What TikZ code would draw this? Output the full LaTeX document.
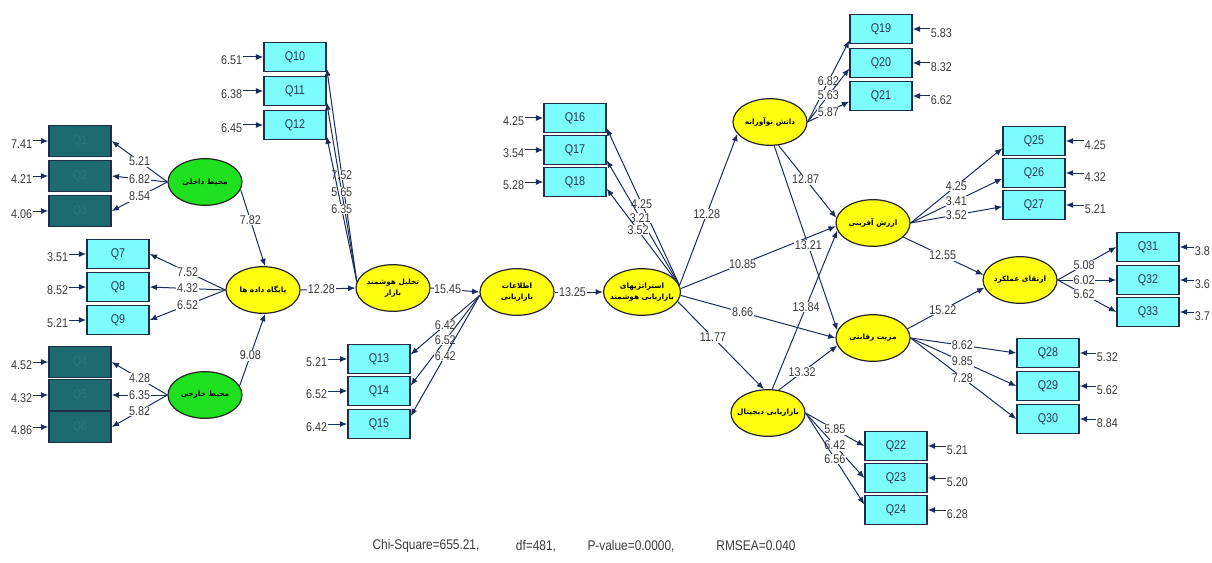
\documentclass[tikz,border=0pt]{standalone}
\usepackage{fontspec}
\usetikzlibrary{shapes.geometric,arrows.meta}
\TeXXeTstate=1
\newfontfamily\nf[FakeStretch=0.85]{Liberation Sans}
\newfontfamily\fa[Script=Arabic]{DejaVu Sans}
\newcommand{\fatx}[1]{\beginR#1\endR}
\definecolor{lc}{HTML}{1C2D5A}
\definecolor{qcyan}{HTML}{7CFCFC}
\definecolor{boxb}{HTML}{1E2E48}
\definecolor{dteal}{HTML}{1E6A72}
\definecolor{dtext}{HTML}{287780}
\definecolor{qtext}{HTML}{2A3A5A}
\definecolor{yel}{HTML}{FFFF10}
\definecolor{grn}{HTML}{1EE01E}
\definecolor{numc}{HTML}{3A3A3A}
\tikzset{
  qbox/.style={draw=boxb, line width=1.1pt, fill=qcyan, minimum width=46.5pt, minimum height=21.75pt, inner sep=0pt, font=\nf\fontsize{9.5}{10}\selectfont, text=qtext},
  dbox/.style={qbox, fill=dteal, text=dtext, minimum height=23pt},
  lat/.style={ellipse, draw=black!85, line width=0.9pt, fill=yel, minimum width=55.5pt, minimum height=35pt, inner sep=-3.5pt, align=center, font=\fa\bfseries\fontsize{5.5}{8.5}\selectfont},
  glat/.style={lat, fill=grn},
  num/.style={font=\nf\fontsize{9.5}{10}\selectfont, text=numc, inner sep=0.5pt},
  lab/.style={num, fill=white},
  arr/.style={draw=lc, line width=0.75pt, -{Latex[length=5.5pt,width=4.5pt]}}
}
\begin{document}
\begin{tikzpicture}[x=0.75pt,y=-0.75pt]
\useasboundingbox (0,0) rectangle (1212,563);
% ---------- observed boxes ----------
\node[dbox] (D1) at (80,141) {Q1};
\node[dbox] (D2) at (80,176) {Q2};
\node[dbox] (D3) at (80,211) {Q3};
\node[dbox] (D4) at (80,362) {Q4};
\node[dbox] (D5) at (80,395) {Q5};
\node[dbox] (D6) at (80,427) {Q6};
\node[qbox] (Q7) at (118,254) {Q7};
\node[qbox] (Q8) at (118,287) {Q8};
\node[qbox] (Q9) at (118,320) {Q9};
\node[qbox] (Q10) at (295,57) {Q10};
\node[qbox] (Q11) at (295,91) {Q11};
\node[qbox] (Q12) at (295,125) {Q12};
\node[qbox] (Q13) at (379,359) {Q13};
\node[qbox] (Q14) at (379,391) {Q14};
\node[qbox] (Q15) at (379,424) {Q15};
\node[qbox] (Q16) at (575,118) {Q16};
\node[qbox] (Q17) at (575,150) {Q17};
\node[qbox] (Q18) at (575,182) {Q18};
\node[qbox] (Q19) at (881,29) {Q19};
\node[qbox] (Q20) at (881,63) {Q20};
\node[qbox] (Q21) at (881,96) {Q21};
\node[qbox] (Q25) at (1034,141) {Q25};
\node[qbox] (Q26) at (1034,173) {Q26};
\node[qbox] (Q27) at (1034,205) {Q27};
\node[qbox] (Q31) at (1148,247) {Q31};
\node[qbox] (Q32) at (1148,280) {Q32};
\node[qbox] (Q33) at (1148,312) {Q33};
\node[qbox] (Q28) at (1048,353) {Q28};
\node[qbox] (Q29) at (1048,386) {Q29};
\node[qbox] (Q30) at (1048,419) {Q30};
\node[qbox] (Q22) at (896,446) {Q22};
\node[qbox] (Q23) at (896,478) {Q23};
\node[qbox] (Q24) at (896,510) {Q24};
% ---------- latent ellipses ----------
\node[glat] (gi) at (205,182) {\fatx{محیط داخلی}};
\node[glat] (ge) at (205,395) {\fatx{محیط خارجی}};
\node[lat] (pd) at (263,290) {\fatx{پایگاه داده ها}};
\node[lat] (ta) at (393,288) {\fatx{تحلیل هوشمند}\\\fatx{بازار}};
\node[lat] (et) at (517,292) {\fatx{اطلاعات}\\\fatx{بازاریابی}};
\node[lat] (st) at (642,292) {\fatx{استراتژیهای}\\\fatx{بازاریابی هوشمند}};
\node[lat] (dn) at (770,122) {\fatx{دانش نوآورانه}};
\node[lat] (ar) at (873,223) {\fatx{ارزش آفرینی}};
\node[lat] (ir) at (1020,280) {\fatx{ارتقای عملکرد}};
\node[lat] (mz) at (873,338) {\fatx{مزیت رقابتی}};
\node[lat] (bd) at (768,413) {\fatx{بازاریابی دیجیتال}};
% ---------- error terms (left) ----------
\node[num,anchor=east] (e1) at (33,144) {7.41};
\node[num,anchor=east] (e2) at (33,179) {4.21};
\node[num,anchor=east] (e3) at (33,214) {4.06};
\node[num,anchor=east] (e4) at (33,365) {4.52};
\node[num,anchor=east] (e5) at (33,398) {4.32};
\node[num,anchor=east] (e6) at (33,430) {4.86};
\node[num,anchor=east] (e7) at (69,257) {3.51};
\node[num,anchor=east] (e8) at (69,290) {8.52};
\node[num,anchor=east] (e9) at (69,323) {5.21};
\node[num,anchor=east] (e10) at (243,60) {6.51};
\node[num,anchor=east] (e11) at (243,94) {6.38};
\node[num,anchor=east] (e12) at (243,128) {6.45};
\node[num,anchor=east] (e13) at (328,362) {5.21};
\node[num,anchor=east] (e14) at (328,394) {6.52};
\node[num,anchor=east] (e15) at (328,427) {6.42};
\node[num,anchor=east] (e16) at (525,121) {4.25};
\node[num,anchor=east] (e17) at (525,153) {3.54};
\node[num,anchor=east] (e18) at (525,185) {5.28};
\foreach \e/\q in {e1/D1,e2/D2,e3/D3,e4/D4,e5/D5,e6/D6,e7/Q7,e8/Q8,e9/Q9,e10/Q10,e11/Q11,e12/Q12,e13/Q13,e14/Q14,e15/Q15,e16/Q16,e17/Q17,e18/Q18}
  \draw[arr] (\e.east |- \q.west) -- (\q.west);
% ---------- error terms (right) ----------
\node[num,anchor=west] (e19) at (930,33) {5.83};
\node[num,anchor=west] (e20) at (930,67) {8.32};
\node[num,anchor=west] (e21) at (930,100) {6.62};
\node[num,anchor=west] (e25) at (1084,145) {4.25};
\node[num,anchor=west] (e26) at (1084,177) {4.32};
\node[num,anchor=west] (e27) at (1084,209) {5.21};
\node[num,anchor=west] (e31) at (1194,251) {3.8};
\node[num,anchor=west] (e32) at (1194,284) {3.6};
\node[num,anchor=west] (e33) at (1194,316) {3.7};
\node[num,anchor=west] (e28) at (1096,357) {5.32};
\node[num,anchor=west] (e29) at (1096,390) {5.62};
\node[num,anchor=west] (e30) at (1096,423) {8.84};
\node[num,anchor=west] (e22) at (946,450) {5.21};
\node[num,anchor=west] (e23) at (946,482) {5.20};
\node[num,anchor=west] (e24) at (946,514) {6.28};
\foreach \e/\q in {e19/Q19,e20/Q20,e21/Q21,e25/Q25,e26/Q26,e27/Q27,e31/Q31,e32/Q32,e33/Q33,e28/Q28,e29/Q29,e30/Q30,e22/Q22,e23/Q23,e24/Q24}
  \draw[arr] (\e.west |- \q.east) -- (\q.east);
% ---------- loadings ----------
\draw[arr] (gi.west) -- node[lab]{5.21} (D1.east);
\draw[arr] (gi.west) -- node[lab]{6.82} (D2.east);
\draw[arr] (gi.west) -- node[lab]{8.54} (D3.east);
\draw[arr] (ge.west) -- node[lab]{4.28} (D4.east);
\draw[arr] (ge.west) -- node[lab]{6.35} (D5.east);
\draw[arr] (ge.west) -- node[lab]{5.82} (D6.east);
\draw[arr] (pd.west) -- node[lab]{7.52} (Q7.east);
\draw[arr] (pd.west) -- node[lab]{4.32} (Q8.east);
\draw[arr] (pd.west) -- node[lab]{6.52} (Q9.east);
\draw[arr] (ta.170) -- node[lab]{7.52} (Q10.-20);
\draw[arr] (ta.170) -- node[lab]{5.65} (Q11.-20);
\draw[arr] (ta.170) -- node[lab]{6.35} (Q12.-20);
\draw[arr] (et.185) -- node[lab]{6.42} (Q13.8);
\draw[arr] (et.185) -- node[lab]{6.52} (Q14.10);
\draw[arr] (et.185) -- node[lab]{6.42} (Q15.14);
\draw[arr] (st.10) -- node[lab,pos=0.52]{4.25} (Q16.-18);
\draw[arr] (st.10) -- node[lab,pos=0.54]{3.21} (Q17.-18);
\draw[arr] (st.10) -- node[lab,pos=0.57]{3.52} (Q18.-12);
\draw[arr] (dn.east) -- node[lab]{6.82} (Q19.200);
\draw[arr] (dn.east) -- node[lab]{5.63} (Q20.190);
\draw[arr] (dn.east) -- node[lab]{5.87} (Q21.190);
\draw[arr] (ar.east) -- node[lab]{4.25} (Q25.193);
\draw[arr] (ar.east) -- node[lab]{3.41} (Q26.190);
\draw[arr] (ar.east) -- node[lab]{3.52} (Q27.183);
\draw[arr] (ir.east) -- node[lab,pos=0.45]{5.08} (Q31.west);
\draw[arr] (ir.east) -- node[lab,pos=0.45]{6.02} (Q32.west);
\draw[arr] (ir.east) -- node[lab,pos=0.45]{5.62} (Q33.west);
\draw[arr] (mz.east) -- node[lab,pos=0.49]{8.62} (Q28.west);
\draw[arr] (mz.east) -- node[lab,pos=0.49]{9.85} (Q29.west);
\draw[arr] (mz.east) -- node[lab,pos=0.49]{7.28} (Q30.west);
\draw[arr] (bd.east) -- node[lab]{5.85} (Q22.west);
\draw[arr] (bd.east) -- node[lab]{6.42} (Q23.west);
\draw[arr] (bd.east) -- node[lab]{6.56} (Q24.170);
% ---------- structural paths ----------
\draw[arr] (gi.-12) -- node[lab,pos=0.4]{7.82} (pd.85);
\draw[arr] (ge.15) -- node[lab,pos=0.42]{9.08} (pd.-85);
\draw[arr] (pd.east) -- node[lab,pos=0.38]{12.28} (ta.west);
\draw[arr] (ta.east) -- node[lab,pos=0.35]{15.45} (et.west);
\draw[arr] (et.east) -- node[lab,pos=0.37]{13.25} (st.west);
\draw[arr] (st.10) -- node[lab,pos=0.47]{12.28} (dn.200);
\draw[arr] (st.5) -- node[lab,pos=0.4]{10.85} (ar.185);
\draw[arr] (st.-5) -- node[lab,pos=0.4]{8.66} (mz.west);
\draw[arr] (st.-15) -- node[lab,pos=0.41]{11.77} (bd.100);
\draw[arr] (dn.-70) -- node[lab,pos=0.47]{12.87} (ar.172);
\draw[arr] (dn.-80) -- node[lab,pos=0.54]{13.21} (mz.168);
\draw[arr] (bd.80) -- node[lab,pos=0.52]{13.84} (ar.192);
\draw[arr] (bd.65) -- node[lab,pos=0.4]{13.32} (mz.192);
\draw[arr] (ar.-25) -- node[lab,pos=0.49]{12.55} (ir.172);
\draw[arr] (mz.15) -- node[lab,pos=0.46]{15.22} (ir.192);
% ---------- fit statistics ----------
\node[num,font=\nf\fontsize{10.5}{12}\selectfont] (s1) at (426,546) {Chi-Square=655.21,};
\node[num,font=\nf\fontsize{10.5}{12}\selectfont] (s2) at (536,546) {df=481,};
\node[num,font=\nf\fontsize{10.5}{12}\selectfont] (s3) at (631,546) {P-value=0.0000,};
\node[num,font=\nf\fontsize{10.5}{12}\selectfont] (s4) at (756,546) {RMSEA=0.040};
\end{tikzpicture}
\end{document}
